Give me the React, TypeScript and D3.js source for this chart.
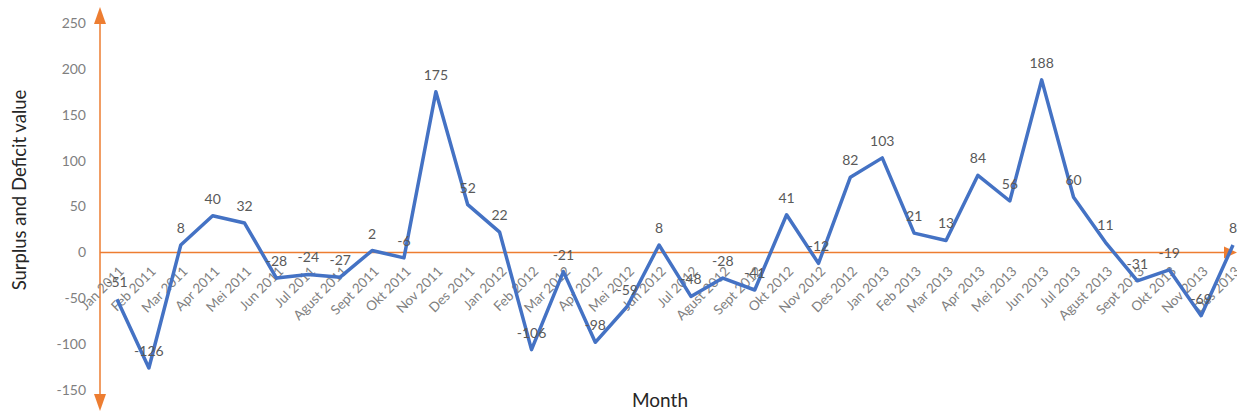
import React from "react";
import * as d3 from "d3";

const months: string[] = [
  "Jan 2011", "Feb 2011", "Mar 2011", "Apr 2011", "Mei 2011", "Jun 2011",
  "Jul 2011", "Agust 2011", "Sept 2011", "Okt 2011", "Nov 2011", "Des 2011",
  "Jan 2012", "Feb 2012", "Mar 2012", "Apr 2012", "Mei 2012", "Jun 2012",
  "Jul 2012", "Agust 2012", "Sept 2012", "Okt 2012", "Nov 2012", "Des 2012",
  "Jan 2013", "Feb 2013", "Mar 2013", "Apr 2013", "Mei 2013", "Jun 2013",
  "Jul 2013", "Agust 2013", "Sept 2013", "Okt 2013", "Nov 2013", "Des 2013",
];

const values: number[] = [
  -51, -126, 8, 40, 32, -28, -24, -27, 2, -6, 175, 52,
  22, -106, -21, -98, -59, 8, -48, -28, -41, 41, -12, 82,
  103, 21, 13, 84, 56, 188, 60, 11, -31, -19, -69, 8,
];

const yTicks: number[] = [250, 200, 150, 100, 50, 0, -50, -100, -150];

const W = 1237;
const H = 414;
const ORANGE = "#ED7D31";
const BLUE = "#4472C4";

export default function App() {
  const x = d3.scalePoint<string>().domain(months).range([117, 1233]);
  const y = d3.scaleLinear().domain([-150, 250]).range([390, 23]);
  const axisX = 100;
  const y0 = y(0);

  const line = d3
    .line<number>()
    .x((_, i) => x(months[i]) as number)
    .y((d) => y(d));

  const font = "Lato, 'Noto Sans', sans-serif";

  return (
    <svg
      width={W}
      height={H}
      style={{ position: "absolute", left: 0, top: 0, background: "#fff" }}
      fontFamily={font}
    >
      {/* y tick labels */}
      {yTicks.map((t) => (
        <text
          key={t}
          x={86}
          y={y(t)}
          dy="0.35em"
          textAnchor="end"
          fontSize={14}
          fill="#7F7F7F"
        >
          {t}
        </text>
      ))}

      {/* y axis with arrows */}
      <line x1={axisX} x2={axisX} y1={22} y2={396} stroke={ORANGE} strokeWidth={1.5} />
      <path d={`M${axisX},7 L${axisX - 6},24 L${axisX + 6},24 Z`} fill={ORANGE} />
      <path d={`M${axisX},411 L${axisX - 6},394 L${axisX + 6},394 Z`} fill={ORANGE} />

      {/* x axis (zero line) with arrow */}
      <line x1={axisX} x2={1226} y1={y0} y2={y0} stroke={ORANGE} strokeWidth={1.5} />
      <path d={`M1237,${y0} L1224,${y0 - 6} L1224,${y0 + 6} Z`} fill={ORANGE} />

      {/* x tick labels */}
      {months.map((m) => (
        <text
          key={m}
          transform={`translate(${(x(m) as number) + 1},${y0 + 13}) rotate(-45)`}
          dy="0.71em"
          textAnchor="end"
          fontSize={13.5}
          fill="#7F7F7F"
        >
          {m}
        </text>
      ))}

      {/* data line */}
      <path d={line(values) || ""} fill="none" stroke={BLUE} strokeWidth={3.5} strokeLinejoin="round" />

      {/* data labels */}
      {values.map((v, i) => (
        <text
          key={i}
          x={x(months[i]) as number}
          y={y(v) - 12}
          textAnchor="middle"
          fontSize={14}
          fill="#595959"
        >
          {v}
        </text>
      ))}

      {/* axis titles */}
      <text
        transform={`translate(26,190) rotate(-90)`}
        textAnchor="middle"
        fontSize={18.5}
        fill="#262626"
      >
        Surplus and Deficit value
      </text>
      <text x={660} y={407} textAnchor="middle" fontSize={19} fill="#262626">
        Month
      </text>
    </svg>
  );
}
